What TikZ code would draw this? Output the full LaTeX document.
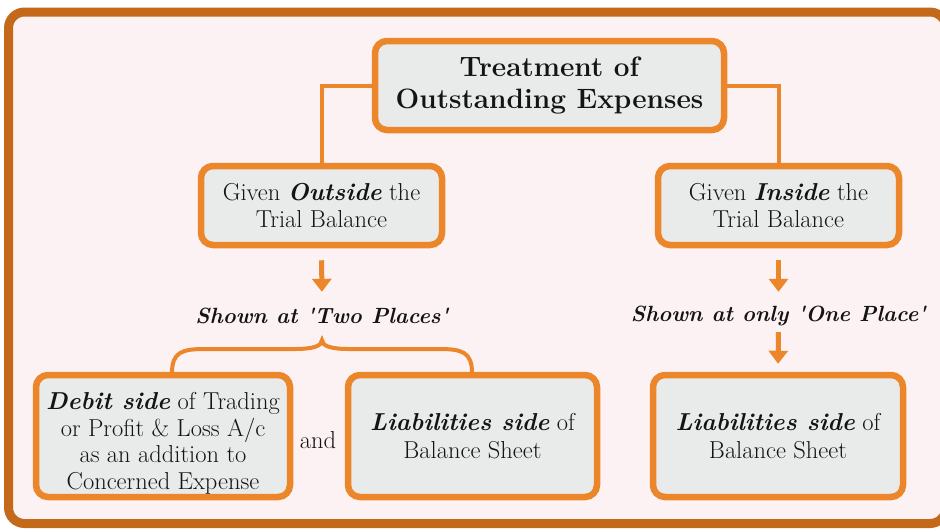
\documentclass[tikz,border=0pt]{standalone}
\usetikzlibrary{arrows.meta}
\definecolor{frameC}{RGB}{196,104,26}
\definecolor{bgC}{RGB}{253,242,243}
\definecolor{boxC}{RGB}{233,235,235}
\definecolor{orC}{RGB}{236,134,42}
\definecolor{txtC}{RGB}{20,20,20}
\begin{document}
\begin{tikzpicture}[x=1pt,y=-1pt,
  box/.style={draw=orC, line width=6.5pt, fill=boxC, rounded corners=12pt, align=center,
    text=txtC, inner sep=0pt, font=\fontsize{24.5}{27.5}\selectfont},
  lbl/.style={text=txtC, inner sep=0pt, minimum height=24pt, font=\fontsize{22}{25}\selectfont\bfseries\itshape},
  conn/.style={draw=orC, line width=4pt},
  arr/.style={draw=orC, line width=5pt, -{Triangle[width=19pt,length=13pt]}},
]
\useasboundingbox (0,0) rectangle (940,531);
\draw[frameC, line width=9pt, fill=bgC, rounded corners=16pt] (8.5,12) rectangle (946,523.5);

\node[box, minimum width=349pt, minimum height=89pt, font=\fontsize{28}{32}\selectfont\bfseries] (title) at (549.5,85.5) {Treatment of\\Outstanding Expenses};

\node[box, minimum width=241pt, minimum height=79pt] (left) at (321.5,205.5) {Given \textbf{\textit{Outside}} the\\Trial Balance};
\node[box, minimum width=241pt, minimum height=79pt] (right) at (778.5,205.5) {Given \textbf{\textit{Inside}} the\\Trial Balance};

\node[lbl] (lblL) at (322,316) {Shown at \textquotesingle Two Places\textquotesingle};
\node[lbl] (lblR) at (778.5,316) {Shown at only \textquotesingle One Place\textquotesingle};

\node[box, minimum width=254pt, minimum height=122pt, font=\fontsize{24.5}{26.5}\selectfont] (bl) at (163,436) {\rule{0pt}{32pt}\textbf{\textit{Debit side}} of Trading\\or Profit \& Loss A/c\\as an addition to\\Concerned Expense};
\node[text=txtC, inner sep=0pt, font=\fontsize{24.5}{27.5}\selectfont] (and) at (318,440) {and};
\node[box, minimum width=249pt, minimum height=122pt] (bm) at (472.5,436) {\textbf{\textit{Liabilities side}} of\\Balance Sheet};
\node[box, minimum width=250pt, minimum height=122pt] (br) at (778,436) {\textbf{\textit{Liabilities side}} of\\Balance Sheet};

\draw[conn] (title.west) -| (left.north);
\draw[conn] (title.east) -| (right.north);

\draw[arr, shorten <=12pt, shorten >=12pt] (left.south) -- (lblL.north);
\draw[arr, shorten <=12pt, shorten >=12pt] (right.south) -- (lblR.north);
\draw[arr, shorten <=4pt, shorten >=8pt] (lblR.south) -- (br.north);

\draw[conn] (172,373) .. controls (172,352) and (182,349) .. (205,349) -- (295,349)
  .. controls (313,349) and (322,346) .. (322,340)
  .. controls (322,346) and (331,349) .. (349,349) -- (439,349)
  .. controls (462,349) and (472,352) .. (472,373);
\end{tikzpicture}
\end{document}
